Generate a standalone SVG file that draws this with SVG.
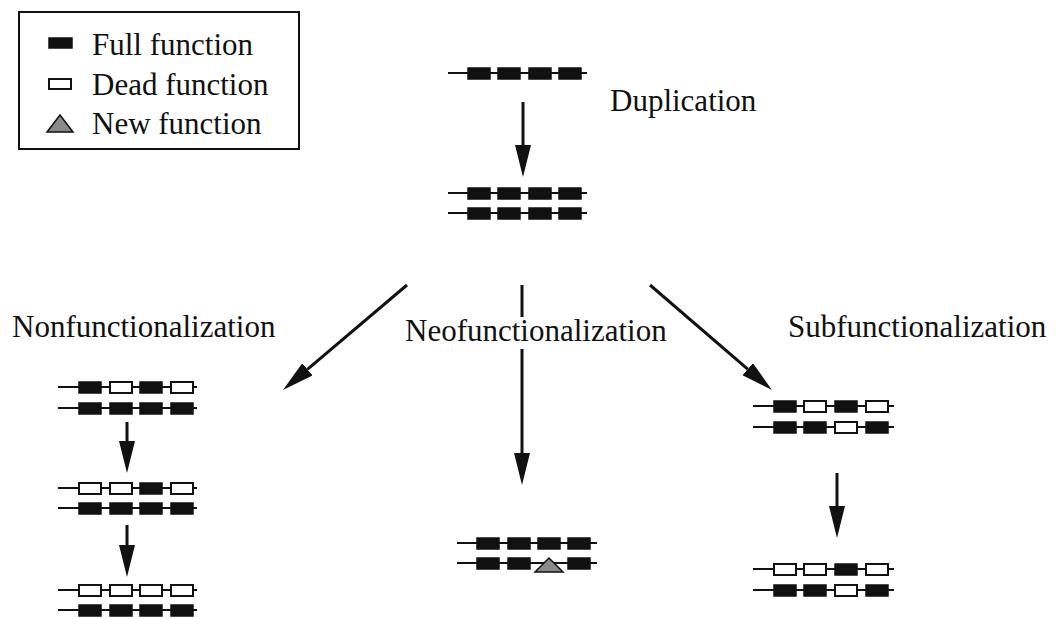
<svg xmlns="http://www.w3.org/2000/svg" width="1056" height="619" viewBox="0 0 1056 619">
<defs>
<style>
text{font-family:'Liberation Serif','Times New Roman',serif;font-size:31px;fill:#111}
.ln{stroke:#111;stroke-width:2;fill:none}
.f{fill:#111;stroke:#111;stroke-width:1.5}
.d{fill:#fff;stroke:#111;stroke-width:2}
.tri{fill:#8a8a8a;stroke:#111;stroke-width:1.5}
.arr{stroke:#111;stroke-width:3;fill:none;marker-end:url(#ah)}
.seg{stroke:#111;stroke-width:3;fill:none}
</style>
<marker id="ah" markerUnits="userSpaceOnUse" markerWidth="34" markerHeight="18" refX="0" refY="8" orient="auto" viewBox="0 0 34 18">
<path d="M0,0 L32,8 L0,16 Z" fill="#111"/>
</marker>
</defs>
<rect width="1056" height="619" fill="#fff"/>

<g id="legend">
<rect x="19" y="12" width="280" height="137" fill="none" stroke="#111" stroke-width="2"/>
<rect class="f" x="49" y="38" width="23" height="10"/>
<text x="92" y="55">Full function</text>
<rect class="d" x="49" y="79" width="22" height="10"/>
<text x="92" y="95">Dead function</text>
<polygon class="tri" points="47,132 60,115 73,132"/>
<text x="92" y="134">New function</text>
</g>

<g id="original">
<line class="ln" x1="448" y1="73" x2="587" y2="73"/>
<rect class="f" x="468" y="68" width="22" height="11"/><rect class="f" x="498" y="68" width="22" height="11"/><rect class="f" x="529" y="68" width="22" height="11"/><rect class="f" x="559" y="68" width="22" height="11"/>
</g>

<g id="duplication-label"><text x="610" y="111">Duplication</text></g>

<g id="duplicated">
<line class="ln" x1="448" y1="193" x2="587" y2="193"/>
<rect class="f" x="468" y="188" width="22" height="11"/><rect class="f" x="498" y="188" width="22" height="11"/><rect class="f" x="529" y="188" width="22" height="11"/><rect class="f" x="559" y="188" width="22" height="11"/>
<line class="ln" x1="448" y1="213" x2="587" y2="213"/>
<rect class="f" x="468" y="208" width="22" height="11"/><rect class="f" x="498" y="208" width="22" height="11"/><rect class="f" x="529" y="208" width="22" height="11"/><rect class="f" x="559" y="208" width="22" height="11"/>
</g>

<g id="nonfunc-label"><text x="12" y="337">Nonfunctionalization</text></g>
<g id="neofunc-label"><text x="405" y="341">Neofunctionalization</text></g>
<g id="subfunc-label"><text x="788" y="337">Subfunctionalization</text></g>

<g id="nonfunc-1">
<line class="ln" x1="58" y1="387" x2="197" y2="387"/>
<rect class="f" x="79" y="382" width="22" height="11"/><rect class="d" x="110" y="382" width="22" height="11"/><rect class="f" x="140" y="382" width="22" height="11"/><rect class="d" x="171" y="382" width="22" height="11"/>
<line class="ln" x1="58" y1="408" x2="197" y2="408"/>
<rect class="f" x="79" y="403" width="22" height="11"/><rect class="f" x="110" y="403" width="22" height="11"/><rect class="f" x="140" y="403" width="22" height="11"/><rect class="f" x="171" y="403" width="22" height="11"/>
</g>
<g id="nonfunc-2">
<line class="ln" x1="58" y1="488" x2="197" y2="488"/>
<rect class="d" x="79" y="483" width="22" height="11"/><rect class="d" x="110" y="483" width="22" height="11"/><rect class="f" x="140" y="483" width="22" height="11"/><rect class="d" x="171" y="483" width="22" height="11"/>
<line class="ln" x1="58" y1="508" x2="197" y2="508"/>
<rect class="f" x="79" y="503" width="22" height="11"/><rect class="f" x="110" y="503" width="22" height="11"/><rect class="f" x="140" y="503" width="22" height="11"/><rect class="f" x="171" y="503" width="22" height="11"/>
</g>
<g id="nonfunc-3">
<line class="ln" x1="58" y1="590" x2="197" y2="590"/>
<rect class="d" x="79" y="585" width="22" height="11"/><rect class="d" x="110" y="585" width="22" height="11"/><rect class="d" x="140" y="585" width="22" height="11"/><rect class="d" x="171" y="585" width="22" height="11"/>
<line class="ln" x1="58" y1="610" x2="197" y2="610"/>
<rect class="f" x="79" y="605" width="22" height="11"/><rect class="f" x="110" y="605" width="22" height="11"/><rect class="f" x="140" y="605" width="22" height="11"/><rect class="f" x="171" y="605" width="22" height="11"/>
</g>

<g id="neofunc-1">
<line class="ln" x1="457" y1="543" x2="597" y2="543"/>
<rect class="f" x="477" y="538" width="22" height="11"/><rect class="f" x="508" y="538" width="22" height="11"/><rect class="f" x="538" y="538" width="22" height="11"/><rect class="f" x="568" y="538" width="22" height="11"/>
<line class="ln" x1="457" y1="563" x2="597" y2="563"/>
<rect class="f" x="477" y="558" width="22" height="11"/><rect class="f" x="508" y="558" width="22" height="11"/><polygon class="tri" points="535,572 549,558 563,572"/><rect class="f" x="568" y="558" width="22" height="11"/>
</g>

<g id="subfunc-1">
<line class="ln" x1="753" y1="406" x2="894" y2="406"/>
<rect class="f" x="774" y="401" width="22" height="11"/><rect class="d" x="804" y="401" width="22" height="11"/><rect class="f" x="835" y="401" width="22" height="11"/><rect class="d" x="866" y="401" width="22" height="11"/>
<line class="ln" x1="753" y1="427" x2="894" y2="427"/>
<rect class="f" x="774" y="422" width="22" height="11"/><rect class="f" x="804" y="422" width="22" height="11"/><rect class="d" x="835" y="422" width="22" height="11"/><rect class="f" x="866" y="422" width="22" height="11"/>
</g>
<g id="subfunc-2">
<line class="ln" x1="753" y1="569" x2="894" y2="569"/>
<rect class="d" x="774" y="564" width="22" height="11"/><rect class="d" x="804" y="564" width="22" height="11"/><rect class="f" x="835" y="564" width="22" height="11"/><rect class="d" x="866" y="564" width="22" height="11"/>
<line class="ln" x1="753" y1="590" x2="894" y2="590"/>
<rect class="f" x="774" y="585" width="22" height="11"/><rect class="f" x="804" y="585" width="22" height="11"/><rect class="d" x="835" y="585" width="22" height="11"/><rect class="f" x="866" y="585" width="22" height="11"/>
</g>

<g id="connectors">
<path class="arr" d="M523,102 L523,145"/>
<path class="arr" d="M407,285 L307.4,369.3"/>
<path class="seg" d="M522,285 L522,317"/>
<path class="arr" d="M522,349 L522,453"/>
<path class="arr" d="M650,285 L747.7,369.1"/>
<path class="arr" d="M127,422 L127,441"/>
<path class="arr" d="M127,525 L127,545"/>
<path class="arr" d="M837,473 L837,506"/>
</g>
</svg>
